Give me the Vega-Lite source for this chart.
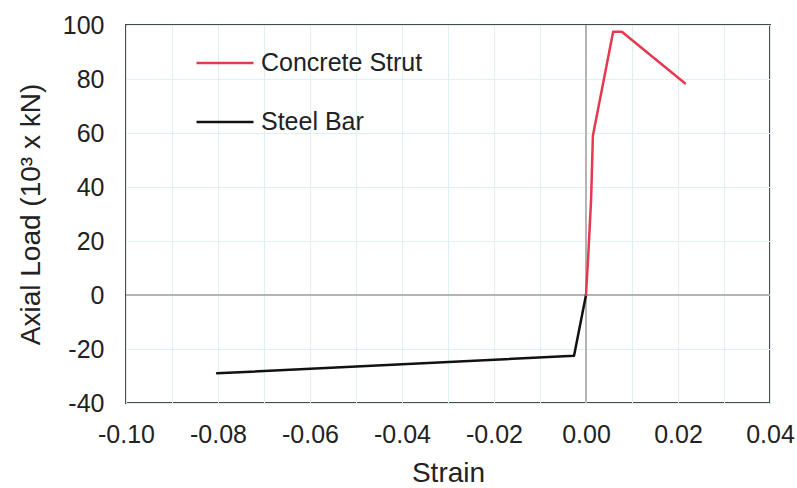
{
  "$schema": "https://vega.github.io/schema/vega-lite/v6.json",
  "width": 644,
  "height": 378,
  "autosize": "none",
  "padding": {"left": 126, "top": 25, "right": 27, "bottom": 85},
  "background": "white",
  "config": {
    "font": "Liberation Sans",
    "view": {"stroke": "#4a4a4a", "strokeWidth": 2},
    "axis": {
      "domain": false,
      "ticks": false,
      "grid": true,
      "gridColor": "#dcf2f2",
      "gridWidth": 1,
      "labelFont": "Liberation Sans",
      "labelFontSize": 25,
      "labelColor": "#222222",
      "labelFlush": false,
      "labelOverlap": false,
      "titleFont": "Liberation Sans",
      "titleFontSize": 28,
      "titleFontWeight": "normal",
      "titleColor": "#222222"
    },
    "legend": {
      "labelFont": "Liberation Sans",
      "labelFontSize": 25,
      "labelColor": "#222222",
      "labelLimit": 0
    }
  },
  "datasets": {
    "curves": [
      {"series": "Steel Bar", "strain": -0.0802, "load": -29.0},
      {"series": "Steel Bar", "strain": -0.0026, "load": -22.5},
      {"series": "Steel Bar", "strain": 0.0, "load": 0.0},
      {"series": "Concrete Strut", "strain": 0.0, "load": 0.0},
      {"series": "Concrete Strut", "strain": 0.0005, "load": 15.0},
      {"series": "Concrete Strut", "strain": 0.0011, "load": 35.0},
      {"series": "Concrete Strut", "strain": 0.0015, "load": 59.0},
      {"series": "Concrete Strut", "strain": 0.0059, "load": 97.5},
      {"series": "Concrete Strut", "strain": 0.0078, "load": 97.5},
      {"series": "Concrete Strut", "strain": 0.0215, "load": 78.4}
    ],
    "zeroX": [{"strain": 0}],
    "zeroY": [{"load": 0}]
  },
  "layer": [
    {
      "data": {"name": "zeroX"},
      "mark": {"type": "rule", "color": "#b4b4b4", "strokeWidth": 2},
      "encoding": {
        "x": {
          "field": "strain",
          "type": "quantitative",
          "scale": {"domain": [-0.1, 0.04], "nice": false, "zero": false},
          "axis": {
            "title": "Strain",
            "values": [-0.1, -0.09, -0.08, -0.07, -0.06, -0.05, -0.04, -0.03, -0.02, -0.01, 0, 0.01, 0.02, 0.03, 0.04],
            "labelExpr": "abs(round(datum.value * 100)) % 2 == 0 ? replace(format(datum.value, '.2f'), '\u2212', '-') : ''",
            "labelPadding": 19,
            "titlePadding": 12
          }
        }
      }
    },
    {
      "data": {"name": "zeroY"},
      "mark": {"type": "rule", "color": "#b4b4b4", "strokeWidth": 2},
      "encoding": {
        "y": {
          "field": "load",
          "type": "quantitative",
          "scale": {"domain": [-40, 100], "nice": false, "zero": false},
          "axis": {
            "title": "Axial Load (10³ x kN)",
            "values": [-40, -30, -20, -10, 0, 10, 20, 30, 40, 50, 60, 70, 80, 90, 100],
            "labelExpr": "datum.value % 20 == 0 ? replace(format(datum.value, 'd'), '\u2212', '-') : ''",
            "labelPadding": 22,
            "titlePadding": 17
          }
        }
      }
    },
    {
      "data": {"name": "curves"},
      "mark": {"type": "line", "strokeWidth": 2.5, "strokeJoin": "round", "strokeCap": "round"},
      "encoding": {
        "x": {"field": "strain", "type": "quantitative"},
        "y": {"field": "load", "type": "quantitative"},
        "detail": {"field": "series"},
        "color": {
          "field": "series",
          "type": "nominal",
          "scale": {"domain": ["Concrete Strut", "Steel Bar"], "range": ["#e53950", "#111111"]},
          "legend": {
            "title": null,
            "orient": "none",
            "legendX": 69,
            "legendY": 8,
            "padding": 0,
            "symbolType": "stroke",
            "symbolSize": 3249,
            "symbolStrokeWidth": 2.5,
            "labelOffset": 6,
            "rowPadding": 16
          }
        }
      }
    }
  ]
}
